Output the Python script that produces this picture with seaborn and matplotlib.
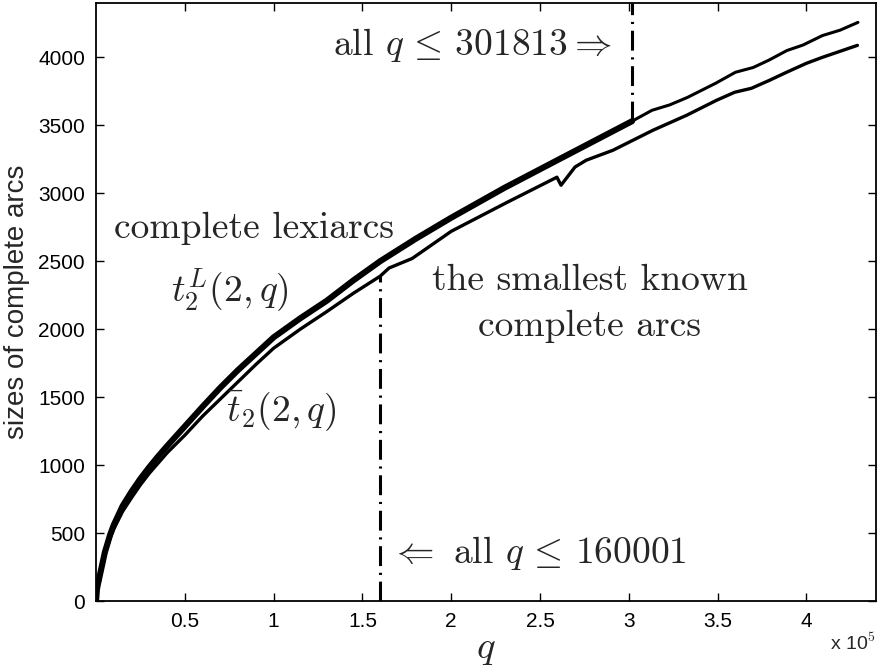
import numpy as np
import pandas as pd
import seaborn as sns
import matplotlib.pyplot as plt

# values (q in units, sizes of arcs)
q_lexi = [0, 500, 1000, 2000, 3000, 5000, 8000, 10000, 15000, 20000, 25000,
          30000, 35000, 40000, 50000, 60000, 70000, 80000, 90000, 100000,
          115000, 130000, 145000, 160000, 180000, 200000, 230000, 260000,
          301813, 313000, 323000, 333000, 349000, 360000, 370000, 379000,
          389000, 398000, 409000, 419000, 429000]
t_lexi = [0, 85, 120, 180, 240, 360, 490, 560, 700, 805, 900,
          985, 1065, 1140, 1285, 1430, 1570, 1700, 1820, 1940,
          2080, 2210, 2360, 2500, 2665, 2820, 3040, 3245,
          3530, 3610, 3650, 3705, 3810, 3890, 3925, 3980,
          4050, 4090, 4160, 4200, 4257]

q_known = [0, 500, 1000, 2000, 3000, 5000, 8000, 10000, 15000, 20000, 25000,
           30000, 35000, 40000, 50000, 60000, 75000, 90000, 100000, 115000,
           130000, 145000, 160000, 165000, 178000, 200000, 231000, 259500,
           261800, 269700, 276000, 291000, 306000, 313500, 332600, 349400,
           359600, 369000, 379200, 388800, 400000, 409000, 428700]
t_known = [0, 75, 105, 150, 215, 340, 465, 530, 660, 760, 855,
           940, 1015, 1090, 1220, 1360, 1550, 1740, 1860, 2000,
           2130, 2265, 2390, 2450, 2520, 2720, 2930, 3118,
           3059, 3193, 3243, 3316, 3414, 3463, 3574, 3684,
           3743, 3772, 3831, 3890, 3956, 4000, 4088]

q_cut_small = 160001
q_cut_large = 301813
x_ticks = [50000, 100000, 150000, 200000, 250000, 300000, 350000, 400000]
x_tick_labels = ["0.5", "1", "1.5", "2", "2.5", "3", "3.5", "4"]
y_ticks = [0, 500, 1000, 1500, 2000, 2500, 3000, 3500, 4000]

sns.set_style("ticks")
plt.rcParams["font.family"] = ["Liberation Sans", "DejaVu Sans"]
plt.rcParams["mathtext.fontset"] = "cm"

lexi = pd.DataFrame({"q": q_lexi, "t": t_lexi})
known = pd.DataFrame({"q": q_known, "t": t_known})

fig = plt.figure(figsize=(8.81, 6.69), dpi=100)
ax = fig.add_axes([0.109, 0.1016, 0.885, 0.894])

# lexiarcs: dense (thick) part up to 301813, sparse beyond
sns.lineplot(data=lexi[lexi.q <= q_cut_large], x="q", y="t", color="black",
             lw=4.4, estimator=None, ax=ax)
sns.lineplot(data=lexi[lexi.q >= q_cut_large], x="q", y="t", color="black",
             lw=2.2, estimator=None, ax=ax)
sns.lineplot(data=known, x="q", y="t", color="black", lw=2.4,
             estimator=None, ax=ax)

top = 4400
y_small = np.interp(q_cut_small, q_known, t_known)
y_large = np.interp(q_cut_large, q_lexi, t_lexi)
dashdot = (0, (6.5, 2.2, 0.7, 2.2))
ax.plot([q_cut_small, q_cut_small], [0, y_small], color="black", lw=2.2, ls=dashdot)
ax.plot([q_cut_large, q_cut_large], [y_large, top], color="black", lw=2.2, ls=dashdot)

ax.set_xlim(0, 439000)
ax.set_ylim(0, top)
ax.set_xticks(x_ticks)
ax.set_xticklabels(x_tick_labels)
ax.set_yticks(y_ticks)
ax.tick_params(direction="in", length=6, width=1, labelsize=15, top=True,
               right=True, pad=8, colors="black")
for s in ax.spines.values():
    s.set_visible(True)
    s.set_linewidth(1.3)
    s.set_color("black")

ax.set_xlabel("$q$", fontsize=28, labelpad=0)
ax.set_ylabel("sizes of complete arcs", fontsize=20, labelpad=6)
fig.text(0.942, 0.028, r"x 10$^{5}$", fontsize=14, ha="left")

serif = "cmr10"
big = 27
ax.text(10100, 2743, "complete lexiarcs", family=serif, fontsize=big, va="center")
ax.text(42100, 2287, r"$t_2^L(2,q)$", fontsize=big, va="center")
ax.text(278000, 2360, "the smallest known", family=serif, fontsize=big,
        va="center", ha="center")
ax.text(278000, 2022, "complete arcs", family=serif, fontsize=big,
        va="center", ha="center")
ax.text(73000, 1404, r"$\bar{t}_2(2,q)$", fontsize=big, va="center")
ax.text(133700, 4088, r"all $q\,\leq\,301813 \Rightarrow$", family=serif,
        fontsize=big, va="center")
ax.text(165800, 353, r"$\Leftarrow$ all $q\,\leq\,160001$", family=serif,
        fontsize=big, va="center")

fig.savefig("out.png", dpi=100)
